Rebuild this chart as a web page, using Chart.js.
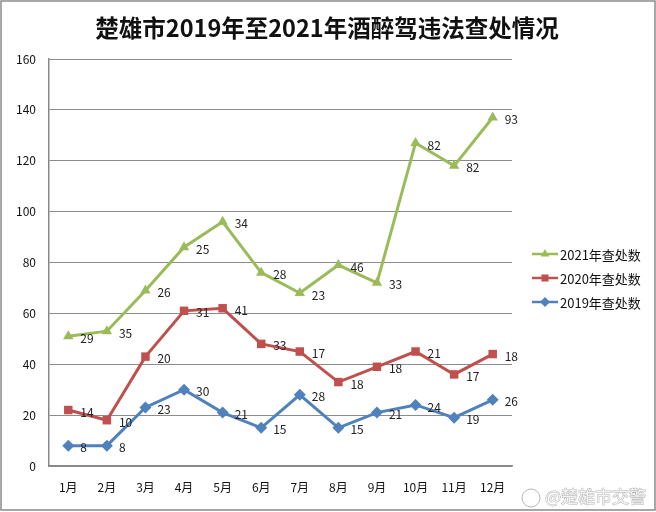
<!DOCTYPE html>
<html><head><meta charset="utf-8">
<script src="https://cdn.jsdelivr.net/npm/chart.js@4.4.1/dist/chart.umd.min.js"></script>
<style>html,body{margin:0;padding:0;background:#fff}#wrap{width:656px;height:512px;position:relative}</style>
</head><body><div id="wrap"><canvas id="c" width="656" height="512"></canvas></div>
<script>
const months = ['1月','2月','3月','4月','5月','6月','7月','8月','9月','10月','11月','12月'];
const y2019 = [8, 8, 23, 30, 21, 15, 28, 15, 21, 24, 19, 26];
const y2020 = [14, 10, 20, 31, 41, 33, 17, 18, 18, 21, 17, 18];
const y2021 = [29, 35, 26, 25, 34, 28, 23, 46, 33, 82, 82, 93];
const seriesNames = ['2019年查处数', '2020年查处数', '2021年查处数'];
const titleText = '楚雄市2019年至2021年酒醉驾违法查处情况';
const watermark = '@楚雄市交警';

const FONT = '"Noto Sans CJK SC", "Noto Sans", sans-serif';
const colors = ['#4F81BD', '#C0504D', '#9BBB59'];
const styles = ['rectRot', 'rect', 'triangle'];

const extras = {
  id: 'extras',
  beforeDraw(chart) {
    const ctx = chart.ctx;
    ctx.save();
    ctx.fillStyle = '#fff';
    ctx.fillRect(0, 0, chart.width, chart.height);
    ctx.restore();
  },
  afterDraw(chart) {
    const ctx = chart.ctx;
    ctx.save();
    // frame
    ctx.strokeStyle = '#8a8a8a';
    ctx.lineWidth = 1.5;
    ctx.strokeRect(1, 1, 654, 509);
    // title
    ctx.fillStyle = '#111';
    ctx.font = 'bold 23.5px ' + FONT;
    ctx.textAlign = 'center';
    ctx.textBaseline = 'middle';
    ctx.fillText(titleText, 327, 28);
    // data labels
    ctx.font = '12px ' + FONT;
    ctx.textAlign = 'left';
    ctx.fillStyle = '#222';
    chart.data.datasets.forEach((ds, di) => {
      const meta = chart.getDatasetMeta(di);
      meta.data.forEach((pt, i) => {
        ctx.fillText(String(ds.data[i]), pt.x + 12, pt.y + 2);
      });
    });
    // legend
    const order = [2, 1, 0];
    const ly = [254, 278, 302];
    order.forEach((di, k) => {
      const ds = chart.data.datasets[di];
      const y = ly[k];
      ctx.strokeStyle = ds.borderColor;
      ctx.lineWidth = 2.5;
      ctx.beginPath(); ctx.moveTo(532, y); ctx.lineTo(558, y); ctx.stroke();
      ctx.fillStyle = ds.borderColor;
      Chart.helpers.drawPoint(ctx, {pointStyle: ds.pointStyle, radius: 5, borderWidth: 0}, 545, y);
      ctx.fillStyle = '#111';
      ctx.font = '13px ' + FONT;
      ctx.fillText(ds.label, 560, y + 1);
    });
    // watermark
    ctx.font = '17px ' + FONT;
    ctx.textAlign = 'left';
    ctx.lineWidth = 1;
    ctx.strokeStyle = '#b8b8b8';
    ctx.fillStyle = '#f2f2f2';
    ctx.strokeText(watermark, 545, 497);
    ctx.fillText(watermark, 545, 497);
    ctx.beginPath();
    ctx.arc(531, 498, 9, 0, Math.PI * 2);
    ctx.stroke();
    ctx.restore();
  }
};

new Chart(document.getElementById('c'), {
  type: 'line',
  data: {
    labels: months,
    datasets: [y2019, y2020, y2021].map((d, i) => ({
      label: seriesNames[i],
      data: d,
      borderColor: colors[i],
      backgroundColor: colors[i],
      pointBackgroundColor: colors[i],
      pointBorderColor: colors[i],
      pointStyle: styles[i],
      pointRadius: 6,
      pointBorderWidth: 0,
      borderWidth: 3,
      tension: 0,
      fill: false
    }))
  },
  plugins: [extras],
  options: {
    responsive: false,
    animation: false,
    layout: { padding: { left: 0, right: 144, top: 59, bottom: 0 } },
    plugins: { legend: { display: false }, title: { display: false }, tooltip: { enabled: false } },
    scales: {
      x: {
        offset: true,
        grid: { display: false, drawTicks: false },
        border: { display: true, color: '#888', width: 1.5 },
        ticks: { color: '#111', font: { family: FONT, size: 12 }, padding: 14, maxRotation: 0, autoSkip: false },
        afterFit(s) { s.height = 46; }
      },
      y: {
        stacked: true,
        min: 0, max: 160,
        grid: { color: '#8c8c8c', lineWidth: 1, drawTicks: false },
        border: { display: true, color: '#888', width: 1.5 },
        ticks: { stepSize: 20, color: '#111', font: { family: FONT, size: 12 }, padding: 13 },
        afterFit(s) { s.width = 49; }
      }
    }
  }
});
</script></body></html>
